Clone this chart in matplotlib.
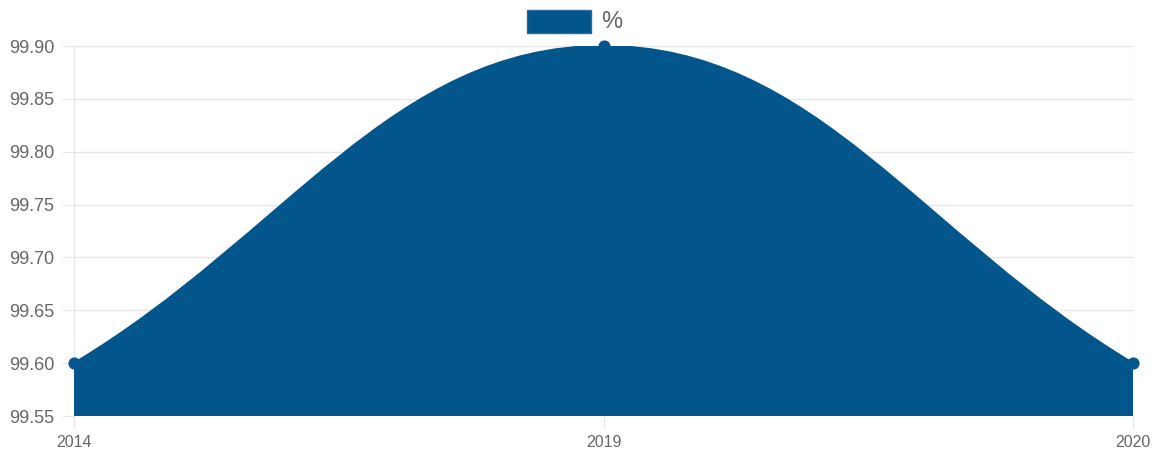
import matplotlib.pyplot as plt
from matplotlib.path import Path
from matplotlib.patches import PathPatch, Rectangle

plt.rcParams['font.family'] = ['Liberation Sans', 'DejaVu Sans']

years = ['2014', '2019', '2020']
values = [99.60, 99.90, 99.60]
y_ticks = [99.55, 99.60, 99.65, 99.70, 99.75, 99.80, 99.85, 99.90]
series_label = '%'
color = '#03568b'
tension = 0.4

W, H = 1152, 451


def spline_path(xs, ys, base):
    # Chart.js-like cubic bezier through the points, closed down to base
    n = len(xs)
    cps = []
    for i in range(n):
        px, py = (xs[i - 1], ys[i - 1]) if i > 0 else (xs[i], ys[i])
        nx, ny = (xs[i + 1], ys[i + 1]) if i < n - 1 else (xs[i], ys[i])
        d01 = abs(xs[i] - px)
        d12 = abs(nx - xs[i])
        tot = d01 + d12 if d01 + d12 else 1
        fa = tension * d01 / tot
        fb = tension * d12 / tot
        cps.append(((xs[i] - fa * (nx - px), ys[i] - fa * (ny - py)),
                    (xs[i] + fb * (nx - px), ys[i] + fb * (ny - py))))
    verts = [(xs[0], base), (xs[0], ys[0])]
    codes = [Path.MOVETO, Path.LINETO]
    for i in range(n - 1):
        verts += [cps[i][1], cps[i + 1][0], (xs[i + 1], ys[i + 1])]
        codes += [Path.CURVE4] * 3
    verts += [(xs[-1], base), (xs[0], base)]
    codes += [Path.LINETO, Path.CLOSEPOLY]
    return Path(verts, codes)


fig = plt.figure(figsize=(W / 100, H / 100), dpi=100)
ax = fig.add_axes([74 / W, 1 - 416 / H, (1133 - 74) / W, (416 - 46) / H])

xs = list(range(len(years)))
ax.add_patch(PathPatch(spline_path(xs, values, y_ticks[0]), facecolor=color,
                       edgecolor=color, lw=1.5, zorder=2))
ax.scatter(xs, values, s=60, color=color, zorder=3, clip_on=False)

ax.set_xlim(0, len(years) - 1)
ax.set_ylim(y_ticks[0], y_ticks[-1])
ax.set_xticks(xs)
ax.set_xticklabels(years)
ax.set_yticks(y_ticks)
ax.set_yticklabels([f'{v:.2f}' for v in y_ticks])
ax.grid(True, color='#e6e6e6', lw=1, zorder=0)
ax.set_axisbelow(True)
for s in ax.spines.values():
    s.set_visible(False)
ax.tick_params(axis='y', length=8.6, color='#e6e6e6', labelsize=13, labelcolor='#666666', pad=5.5)
ax.tick_params(axis='x', length=8.6, color='#e6e6e6', labelsize=11.5, labelcolor='#666666', pad=5)

# legend drawn like the chart's own legend box
fig.add_artist(Rectangle((527 / W, 1 - 33 / H), 64 / W, 23 / H, transform=fig.transFigure,
                         facecolor=color, edgecolor='#2a6d9c', lw=1))
fig.text(601 / W, 1 - 21.5 / H, series_label, fontsize=17, color='#666666', va='center', ha='left')

fig.savefig('out.png', dpi=100)
